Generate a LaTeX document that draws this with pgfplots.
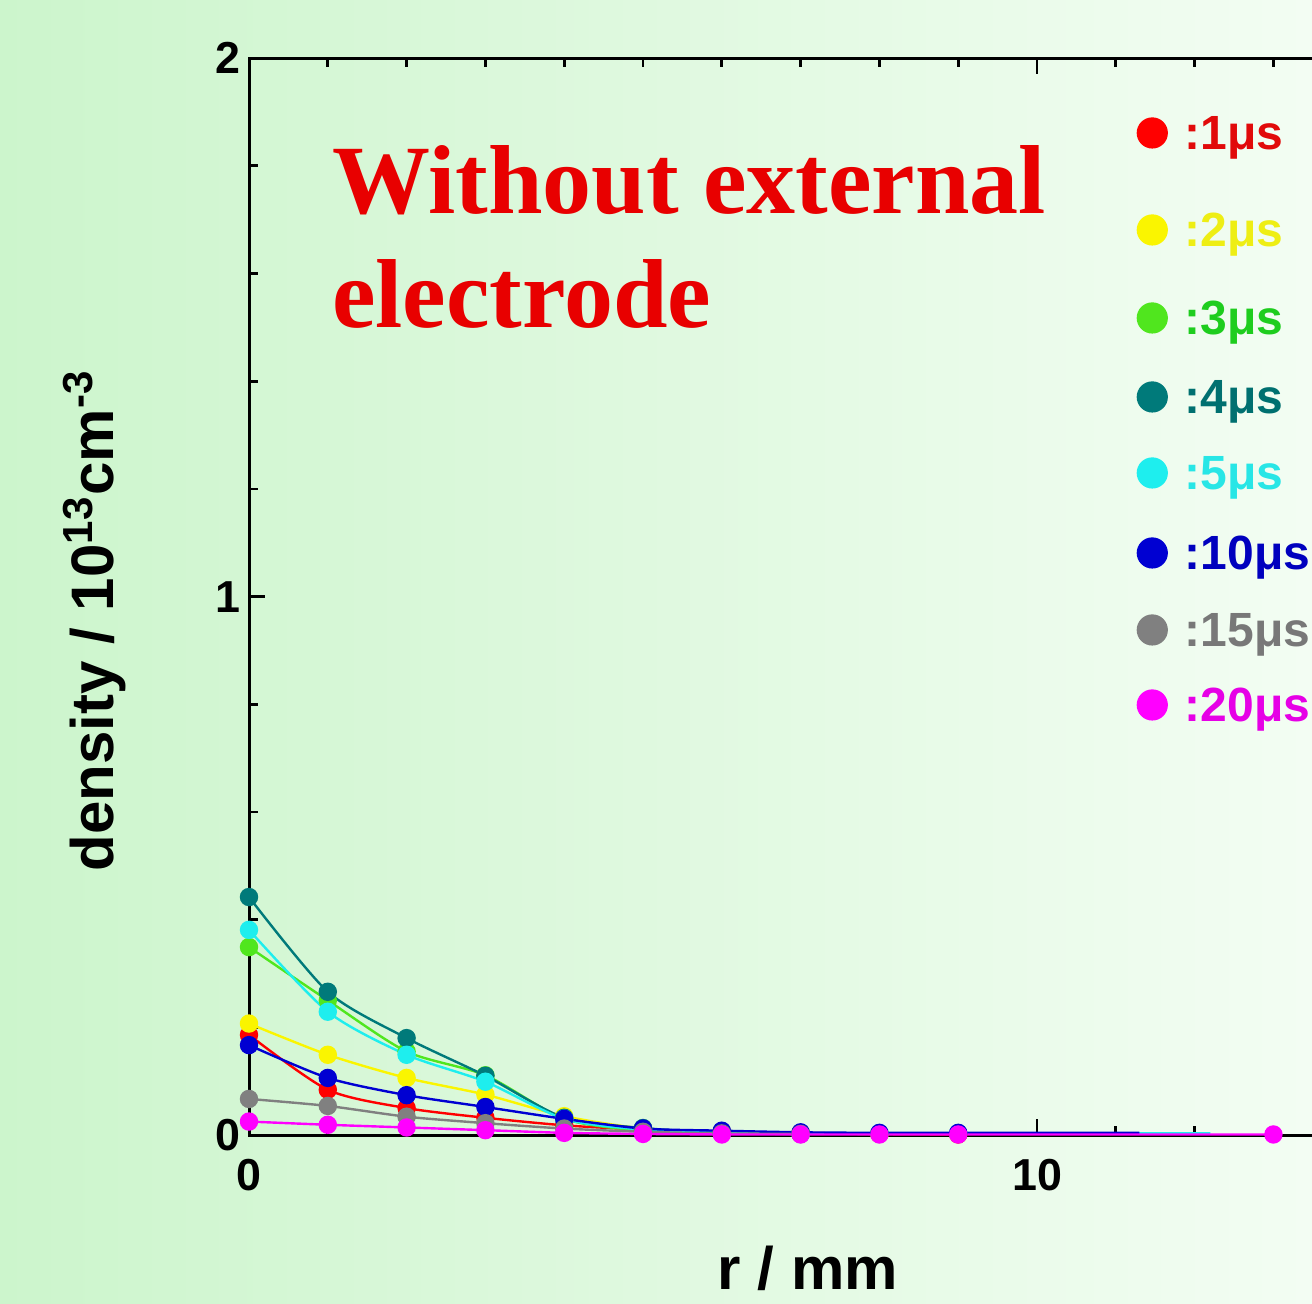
\documentclass[border=0pt]{standalone}
\usepackage{pgfplots}
\pgfplotsset{compat=1.18}
\usepackage{fontspec}
\setmainfont{Liberation Sans}
\newfontfamily\serifb{Liberation Serif}
\definecolor{bgL}{RGB}{204,245,204}
\definecolor{bgM}{RGB}{226,250,226}
\definecolor{bgR}{RGB}{243,253,243}
\definecolor{cA}{RGB}{255,0,0}
\definecolor{cB}{RGB}{250,245,0}
\definecolor{cC}{RGB}{80,230,30}
\definecolor{cD}{RGB}{0,122,122}
\definecolor{cE}{RGB}{30,238,238}
\definecolor{cF}{RGB}{0,0,210}
\definecolor{cG}{RGB}{128,128,128}
\definecolor{cH}{RGB}{255,0,255}
\definecolor{tA}{RGB}{225,10,10}
\definecolor{tB}{RGB}{238,238,20}
\definecolor{tC}{RGB}{30,205,30}
\definecolor{tD}{RGB}{0,112,112}
\definecolor{tE}{RGB}{40,230,230}
\definecolor{tF}{RGB}{0,0,190}
\definecolor{tG}{RGB}{120,120,120}
\definecolor{tH}{RGB}{230,0,230}
\definecolor{titlered}{RGB}{232,0,0}
\begin{document}
\begin{tikzpicture}
\path[use as bounding box, clip] (-62.25pt,-42pt) rectangle (265.75pt,283.75pt);
\shade[left color=bgL, middle color=bgM, right color=bgR] (-62.25pt,-42pt) rectangle (265.75pt,283.75pt);
\begin{axis}[
  at={(0,0)}, anchor=south west,
  x=19.7pt, y=134.6pt,
  xmin=0, xmax=14, ymin=0, ymax=2,
  xtick={0,10}, minor xtick={1,2,3,4,5,6,7,8,9,11,12,13},
  ytick={0,1,2}, minor ytick={0.2,0.4,0.6,0.8,1.2,1.4,1.6,1.8},
  tick align=inside, major tick length=4pt, minor tick length=2.2pt,
  tick style={black, line width=0.7pt},
  axis line style={black, line width=0.75pt},
  ticklabel style={font=\fontsize{11.2}{13}\selectfont\bfseries},
  /pgf/number format/assume math mode=true,
  xticklabel style={yshift=-2.5pt},
  yticklabel style={xshift=1.5pt},
  xlabel={r / mm},
  xlabel style={at={(axis description cs:0.5067,-0.1439)}, anchor=base, font=\fontsize{15}{18}\selectfont\bfseries},
  ylabel={density / 10\textsuperscript{13}cm\textsuperscript{-3}},
  ylabel style={at={(axis description cs:-0.1225,0.478)}, anchor=base, font=\fontsize{15}{18}\selectfont\bfseries},
  every axis plot/.append style={line width=0.6pt, mark=*, mark size=2pt, smooth, tension=0.45},
  legend style={at={(axis cs:11.28,1.889)}, anchor=north west, draw=none, fill=none, inner sep=0pt, outer sep=0pt, row sep=0pt, column sep=4.5pt, nodes={inner sep=0pt, text height=8pt, anchor=base west}, font=\fontsize{12}{14}\selectfont\bfseries},
  legend cell align=left,
  legend image code/.code={\draw[#1, mark size=3.6pt] plot coordinates {(3.6pt,4.25pt)};},
]
\addplot[color=cA, mark options={fill=cA, draw=cA}] coordinates {(0,0.186) (1,0.084) (2,0.050) (3,0.032) (4,0.018) (5,0.010) (6,0.006) (7,0.004) (8,0.002) (9,0.001)};
\addlegendentry[text depth=16.25pt]{\textcolor{tA}{:1μs}}
\addplot[color=cB, mark options={fill=cB, draw=cB}] coordinates {(0,0.207) (1,0.149) (2,0.106) (3,0.075) (4,0.035) (5,0.012) (6,0.005) (7,0.003) (8,0.002)};
\addlegendentry[text depth=14pt]{\textcolor{tB}{:2μs}}
\addplot[color=cC, mark options={fill=cC, draw=cC}] coordinates {(0,0.349) (1,0.250) (2,0.155) (3,0.111) (4,0.030) (5,0.008) (6,0.004) (7,0.002)};
\addlegendentry[text depth=11.75pt]{\textcolor{tC}{:3μs}}
\addplot[color=cD, mark options={fill=cD, draw=cD}] coordinates {(0,0.442) (1,0.266) (2,0.180) (3,0.110) (4,0.032) (5,0.013) (6,0.004) (7,0.002)};
\addlegendentry[text depth=11pt]{\textcolor{tD}{:4μs}}
\addplot[color=cE, mark options={fill=cE, draw=cE}, mark indices={1,2,3,4,5,6,7,8,9,10}] coordinates {(0,0.381) (1,0.229) (2,0.149) (3,0.099) (4,0.030) (5,0.010) (6,0.004) (7,0.003) (8,0.003) (9,0.003) (10,0.003) (11,0.003) (12.2,0.003)};
\addlegendentry[text depth=12pt]{\textcolor{tE}{:5μs}}
\addplot[color=cF, mark options={fill=cF, draw=cF}, mark indices={1,2,3,4,5,6,7,8,9,10}] coordinates {(0,0.167) (1,0.106) (2,0.074) (3,0.052) (4,0.030) (5,0.012) (6,0.008) (7,0.005) (8,0.004) (9,0.004) (10,0.004) (11.3,0.004)};
\addlegendentry[text depth=11.25pt]{\textcolor{tF}{:10μs}}
\addplot[color=cG, mark options={fill=cG, draw=cG}] coordinates {(0,0.067) (1,0.054) (2,0.034) (3,0.022) (4,0.012) (5,0.006) (6,0.003) (7,0.002)};
\addlegendentry[text depth=10.75pt]{\textcolor{tG}{:15μs}}
\addplot[color=cH, mark options={fill=cH, draw=cH}] coordinates {(0,0.025) (1,0.019) (2,0.014) (3,0.009) (4,0.004) (5,0.002) (6,0.001) (7,0.001) (8,0.001) (9,0.001) (13,0.001)};
\addlegendentry[text depth=2.5pt]{\textcolor{tH}{:20μs}}
\node[anchor=base west, text=titlered, font=\serifb\fontsize{24.5}{28}\selectfont\bfseries] at (axis cs:0.876,1.712) {Without external};
\node[anchor=base west, text=titlered, font=\serifb\fontsize{24.5}{28}\selectfont\bfseries] at (axis cs:0.876,1.499) {electrode};
\end{axis}
\end{tikzpicture}
\end{document}
